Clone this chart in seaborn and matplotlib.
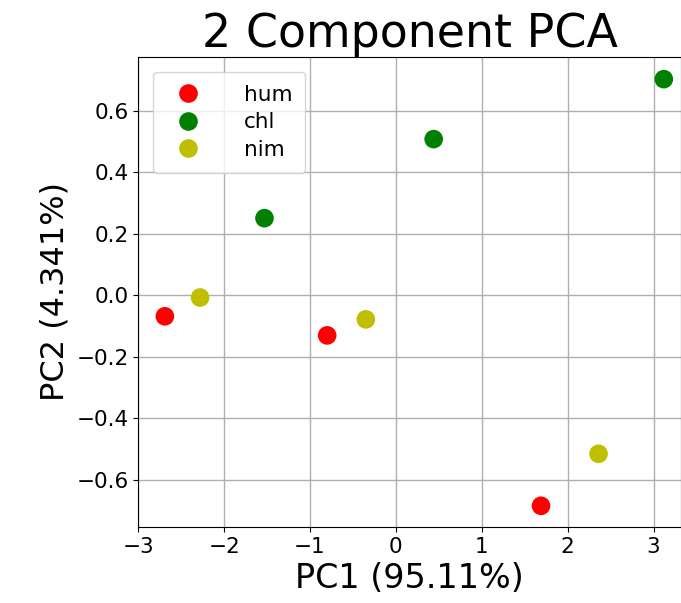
import numpy as np
import pandas as pd
import matplotlib
matplotlib.use("Agg")
import matplotlib.pyplot as plt
import seaborn as sns

targets = ["hum", "chl", "nim"]
colors = ["r", "g", "y"]

pc1_hum = [-2.69, -0.80, 1.69]
pc2_hum = [-0.068, -0.130, -0.684]
pc1_chl = [-1.53, 0.44, 3.12]
pc2_chl = [0.251, 0.508, 0.703]
pc1_nim = [-2.28, -0.35, 2.36]
pc2_nim = [-0.007, -0.078, -0.515]

df = pd.DataFrame({
    "PC1": pc1_hum + pc1_chl + pc1_nim,
    "PC2": pc2_hum + pc2_chl + pc2_nim,
    "target": ["hum"] * 3 + ["chl"] * 3 + ["nim"] * 3,
})

fig = plt.figure(figsize=(6.81, 6.03), dpi=100)
ax = fig.add_axes([0.203, 0.126, 0.797, 0.78])

sns.scatterplot(data=df, x="PC1", y="PC2", hue="target", hue_order=targets,
                palette=dict(zip(targets, colors)), s=180, linewidth=0, ax=ax)

ax.set_xlim(-3.0, 3.32)
ax.set_ylim(-0.753, 0.776)
ax.set_xticks([-3, -2, -1, 0, 1, 2, 3])
ax.set_yticks([-0.6, -0.4, -0.2, 0.0, 0.2, 0.4, 0.6])
ax.grid(True, color="#b0b0b0", linewidth=1)
ax.set_axisbelow(True)
ax.tick_params(labelsize=15.5)

ax.set_xlabel("PC1 (95.11%)", fontsize=24)
ax.set_ylabel("PC2 (4.341%)", fontsize=23)
ax.set_title("2 Component PCA", fontsize=33, pad=4)

leg = ax.legend(loc="upper left", fontsize=15.5, borderpad=0.6,
                handletextpad=1.6, labelspacing=0.35, borderaxespad=0.7)
leg.set_title(None)

fig.savefig("out.png", dpi=100)
